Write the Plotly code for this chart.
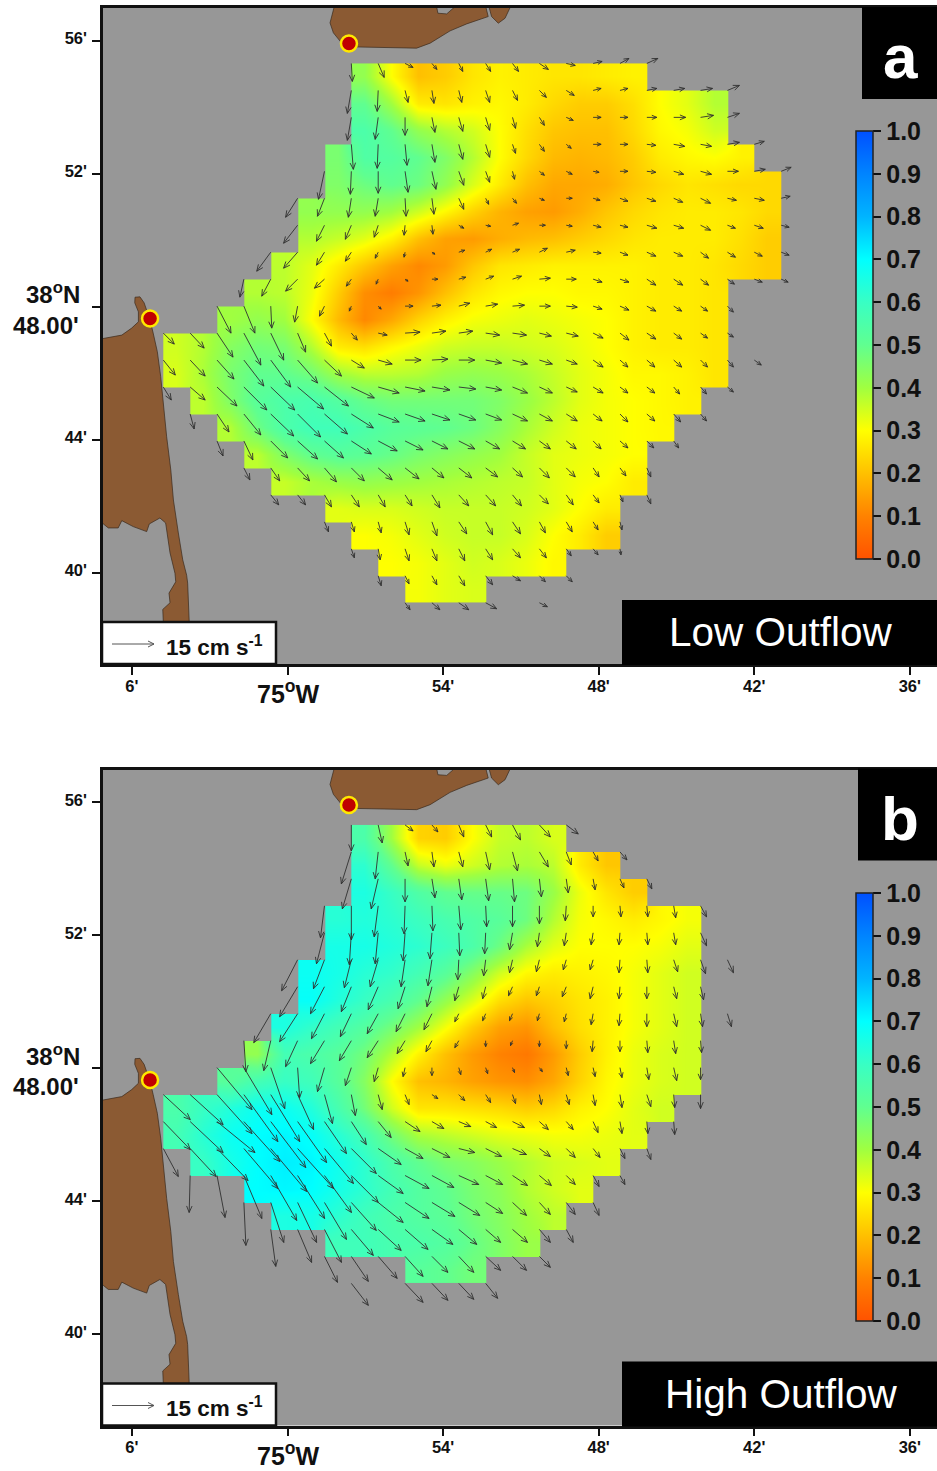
import plotly.graph_objects as go

# ---------- grid of the current-meter field (minutes of arc) ----------
LON0, DLON = -4.79, 1.036      # west edge of first grid block, block width (minutes east of 75 W)
LAT0, DLAT = 55.31, 0.811      # north edge of first grid row, block height (minutes north of 38 N)
N_COLS = 23

# Eulerian tidal residual strength per grid block: first column of each row, then values
Z_START_A = [7, 7, 7, 6, 6, 5, 5, 4, 3, 2, 0, 0, 1, 2, 3, 4, 6, 7, 8, 9]
Z_A = [
    [.42, .30, .20, .22, .26, .28, .27, .26, .26, .27, .28],
    [.50, .40, .27, .26, .28, .29, .27, .24, .22, .22, .25, .30, .33, .38],
    [.55, .50, .42, .38, .35, .30, .25, .21, .20, .20, .24, .29, .31, .35],
    [.46, .54, .53, .50, .45, .38, .30, .24, .19, .18, .19, .22, .27, .29, .30, .28],
    [.45, .48, .50, .48, .42, .34, .27, .20, .16, .16, .17, .21, .24, .26, .25, .24, .24],
    [.42, .42, .42, .40, .35, .29, .23, .18, .15, .14, .17, .21, .24, .26, .27, .27, .26, .24],
    [.38, .36, .33, .28, .20, .15, .14, .17, .19, .20, .22, .24, .26, .27, .27, .27, .25, .22],
    [.37, .33, .27, .21, .15, .11, .14, .21, .26, .27, .28, .28, .28, .28, .27, .27, .26, .24, .22],
    [.38, .37, .32, .22, .12, .09, .13, .20, .26, .29, .30, .30, .29, .29, .28, .27, .27, .26],
    [.40, .42, .40, .30, .19, .11, .16, .23, .28, .31, .32, .33, .32, .31, .30, .28, .27, .27, .26],
    [.35, .38, .44, .47, .46, .38, .27, .25, .29, .32, .35, .36, .36, .35, .34, .32, .30, .28, .27, .27, .26],
    [.34, .39, .46, .50, .50, .47, .40, .37, .37, .38, .41, .42, .41, .39, .36, .33, .31, .29, .29, .28, .26],
    [.37, .45, .52, .55, .56, .53, .49, .47, .47, .47, .47, .45, .41, .37, .33, .31, .30, .29, .28],
    [.38, .48, .55, .58, .58, .55, .52, .51, .50, .48, .44, .39, .35, .32, .31, .30, .29],
    [.37, .45, .50, .52, .51, .49, .46, .44, .42, .40, .36, .33, .32, .31, .30],
    [.36, .39, .41, .42, .41, .40, .39, .38, .37, .36, .33, .31, .30, .27],
    [.33, .34, .34, .35, .36, .36, .36, .35, .33, .30, .27],
    [.30, .31, .33, .35, .36, .36, .34, .30, .27, .22],
    [.30, .31, .33, .35, .34, .32, .29],
    [.31, .33, .34],
]
Z_START_B = [7, 7, 7, 6, 6, 5, 5, 4, 3, 2, 0, 0, 1, 3, 4, 6, 9]
Z_B = [
    [.55, .40, .23, .22, .30, .36, .37, .34],
    [.62, .50, .36, .32, .35, .38, .39, .37, .27, .21],
    [.65, .60, .54, .50, .49, .49, .48, .41, .32, .26, .22],
    [.63, .64, .62, .59, .56, .54, .52, .48, .38, .31, .29, .27, .29, .31],
    [.66, .66, .64, .62, .59, .55, .48, .39, .33, .30, .30, .30, .31, .33],
    [.68, .66, .63, .61, .57, .52, .44, .35, .29, .27, .28, .29, .31, .33, .35],
    [.69, .64, .60, .56, .50, .42, .34, .25, .21, .23, .26, .28, .31, .33, .35],
    [.65, .61, .57, .53, .47, .40, .31, .22, .15, .13, .20, .25, .28, .31, .33, .35],
    [.42, .57, .55, .52, .47, .38, .28, .20, .14, .10, .08, .14, .22, .28, .32, .34, .35],
    [.52, .57, .60, .58, .52, .44, .30, .20, .18, .15, .13, .12, .16, .23, .29, .32, .34, .35],
    [.55, .60, .64, .68, .68, .64, .56, .47, .35, .26, .26, .25, .24, .22, .24, .28, .30, .33, .35],
    [.57, .63, .68, .70, .71, .69, .63, .57, .47, .39, .37, .35, .33, .32, .31, .31, .32, .33],
    [.60, .66, .70, .72, .71, .67, .62, .55, .50, .46, .44, .41, .38, .35, .34, .33],
    [.70, .71, .70, .66, .62, .57, .53, .50, .46, .43, .38, .35, .33],
    [.65, .66, .62, .58, .55, .53, .51, .47, .44, .40, .37],
    [.58, .58, .56, .55, .53, .49, .45, .41],
    [.52, .50, .47],
]

# Current vectors at grid nodes. 41 units = the 15 cm/s reference arrow.
# U is eastward, V is southward.
ARROW_UNITS_PER_15CMS = 41
U_START_A = [7, 7, 7, 7, 6, 5, 5, 4, 3, 2, 0, 0, 0, 1, 2, 3, 4, 6, 7, 8, 9]
U_A = [
    [1, 6, 8, 5, 4, 5, 6, 9, 9, 9, 9, 11],
    [-4, -1, 3, 2, 3, 4, 5, 7, 8, 8, 8, 10, 11, 12, 12],
    [-4, -3, 0, 3, 4, 4, 3, 5, 7, 8, 8, 10, 12, 13, 12],
    [2, -1, 2, 3, 4, 4, 3, 5, 5, 8, 8, 9, 11, 11, 12, 10],
    [-6, -1, 0, 3, 4, 5, 4, 2, 5, 6, 6, 8, 9, 10, 11, 11, 11, 10],
    [-12, -7, -3, -3, 1, 2, 5, 3, 4, 5, 6, 7, 8, 9, 9, 10, 9, 10, 9],
    [-14, -8, -6, -4, -1, 1, 5, 5, 6, 6, 6, 8, 8, 10, 10, 10, 8, 9, 8],
    [-14, -14, -8, -6, -3, -1, 3, 6, 6, 7, 8, 9, 8, 8, 9, 9, 8, 8, 8, 8],
    [-4, -9, -12, -10, -5, -2, 3, 6, 7, 8, 9, 11, 10, 9, 9, 9, 9, 8, 7, 8, 7],
    [14, 11, 1, -3, -5, -2, 3, 8, 9, 11, 12, 12, 11, 11, 9, 9, 9, 8, 7, 6],
    [11, 14, 16, 17, 13, 8, 7, 6, 9, 15, 14, 14, 14, 14, 12, 12, 10, 9, 9, 8, 7, 6],
    [12, 15, 17, 20, 20, 20, 17, 13, 14, 16, 16, 16, 16, 15, 13, 11, 10, 8, 8, 8, 7, 6, 7],
    [8, 15, 20, 23, 24, 26, 24, 23, 21, 20, 18, 17, 16, 15, 13, 11, 10, 8, 8, 6, 6, 6],
    [4, 12, 17, 23, 23, 23, 22, 21, 20, 18, 17, 16, 15, 13, 11, 9, 8, 8, 7, 6],
    [6, 9, 17, 20, 19, 20, 19, 18, 16, 16, 14, 13, 11, 10, 8, 8, 7, 5],
    [6, 9, 12, 12, 13, 14, 14, 12, 13, 12, 10, 10, 9, 6, 6, 4],
    [8, 8, 7, 8, 7, 7, 8, 10, 10, 9, 9, 7, 6, 3, 4],
    [4, 3, 3, 4, 5, 8, 7, 8, 6, 6, 5, 2],
    [3, 2, 4, 5, 6, 7, 8, 7, 5, 5, 1],
    [3, 4, 5, 6, 7, 8, 6, 6],
    [5, 8, 10, 11, None, 8],
]
V_A = [
    [18, 14, 4, 6, 8, 8, 8, 6, 2, -2, -5, -5],
    [23, 21, 12, 13, 12, 12, 10, 7, 5, -2, -2, -2, -2, -2, -5],
    [23, 22, 18, 15, 14, 13, 11, 8, 3, 0, 0, 0, 0, -2, -4],
    [25, 24, 21, 18, 15, 13, 9, 7, 4, 0, 0, 1, 2, 2, -2, -3],
    [28, 23, 22, 21, 18, 14, 11, 8, 4, 3, 1, 0, 1, 3, 3, 0, -2, -4],
    [19, 18, 19, 18, 18, 16, 11, 6, 5, 2, 0, 2, 3, 3, 4, 5, 2, 2, -2],
    [18, 16, 14, 12, 10, 9, 3, 1, -2, 0, 1, 2, 2, 3, 3, 5, 3, 3, 2],
    [19, 16, 13, 9, 6, 5, 2, -2, -3, -3, -4, -2, 1, 3, 4, 4, 6, 5, 4, 3],
    [18, 17, 12, 9, 7, 5, 2, 0, -2, -3, -3, -1, 0, 3, 3, 6, 6, 6, 5, 3, 3],
    [27, 27, 22, 16, 10, 5, 3, 0, -1, -3, -2, -1, 0, 1, 3, 4, 5, 5, 5, 6],
    [11, 15, 24, 32, 27, 19, 13, 7, 2, -1, -2, -2, 2, 2, 3, 3, 5, 7, 6, 6, 5, 4],
    [15, 16, 19, 26, 27, 23, 16, 8, 4, 0, -1, 0, 3, 4, 4, 4, 7, 7, 7, 7, 7, 7, 5],
    [13, 13, 19, 23, 23, 22, 19, 11, 6, 4, 3, 2, 3, 6, 6, 5, 6, 6, 6, 7, 7, 5],
    [15, 18, 21, 22, 23, 20, 14, 8, 7, 6, 6, 6, 7, 7, 7, 7, 8, 7, 8, 7],
    [15, 19, 17, 18, 17, 13, 10, 9, 8, 8, 8, 8, 8, 8, 8, 7, 7, 7],
    [12, 13, 13, 14, 13, 12, 11, 10, 10, 9, 9, 10, 9, 9, 8, 9],
    [10, 10, 12, 12, 12, 11, 13, 11, 11, 11, 9, 10, 8, 7, 9],
    [10, 10, 11, 13, 14, 12, 13, 12, 11, 10, 8, 8],
    [9, 11, 12, 12, 12, 11, 9, 9, 7, 6, 6],
    [10, 8, 9, 10, 9, 5, 6, 6],
    [7, 7, 7, 6, None, 4],
]
U_START_B = [7, 7, 7, 6, 6, 5, 5, 4, 3, 2, 0, 0, 0, 1, 3, 4, 6, 7]
U_B = [
    [0, 4, 8, 6, 5, 6, 8, 11, 12],
    [-10, -3, 3, 2, 4, 4, 5, 9, 5, 5, 7],
    [-9, -7, 0, 3, 3, 3, 2, 2, 2, 2, 4, 5],
    [-4, 0, -4, -1, 1, 2, 1, 0, 0, -1, 0, 1, 1, 2, 6],
    [-8, -2, -3, -2, -2, 1, -1, -3, -2, -2, -2, -1, 1, 2, 6],
    [-16, -11, -7, -8, -4, -4, -1, -2, -3, -3, -3, -3, -1, 1, 4, 5, 6],
    [-18, -14, -10, -10, -7, -5, -4, -3, -4, -3, -4, -3, -1, 0, 3, 3],
    [-17, -18, -13, -11, -11, -9, -8, -4, -3, -3, -2, -2, -2, -1, 0, 3, 2, 4],
    [2, -7, -12, -14, -12, -11, -8, -6, -4, 0, -2, 0, 0, -1, 0, 1, 2, 1],
    [35, 28, 14, 2, -7, -6, -4, -2, 0, 2, 2, 2, 3, 2, 2, 2, 2, 3, 0],
    [27, 33, 35, 34, 29, 16, 8, 4, 4, 4, 6, 6, 5, 3, 2, 3, 2, 2, 4, 1, 0],
    [27, 33, 38, 36, 35, 29, 22, 15, 13, 15, 12, 12, 11, 12, 9, 7, 5, 2, 1, 1],
    [15, 26, 31, 34, 36, 36, 29, 25, 23, 18, 18, 16, 16, 14, 11, 9, 7, 5, 4],
    [-1, 8, 18, 26, 27, 27, 27, 25, 24, 22, 20, 17, 15, 12, 9, 6, 5],
    [2, 13, 19, 22, 25, 25, 24, 23, 21, 17, 14, 11, 9, 6],
    [5, 14, 17, 22, 23, 23, 21, 18, 15, 15, 11, 7],
    [13, 17, 19, 18, 16, 15, 15, 14, 11],
    [17, None, 18, 16, 15, 12],
]
V_B = [
    [26, 18, 6, 7, 12, 12, 15, 12, 9],
    [32, 27, 14, 15, 15, 18, 19, 15, 13, 9, 8],
    [30, 30, 23, 19, 21, 22, 23, 18, 14, 11, 9, 10],
    [32, 34, 31, 28, 25, 24, 21, 21, 18, 15, 11, 11, 11, 12, 11],
    [31, 32, 31, 28, 26, 23, 21, 17, 14, 13, 12, 12, 12, 12, 13],
    [31, 29, 28, 27, 27, 26, 20, 16, 13, 12, 10, 10, 13, 13, 12, 14, 13],
    [30, 27, 25, 23, 22, 20, 14, 12, 9, 9, 10, 12, 12, 12, 12, 13],
    [29, 28, 25, 23, 20, 18, 16, 8, 7, 7, 7, 8, 11, 12, 13, 13, 13, 13],
    [31, 30, 26, 23, 20, 17, 13, 11, 7, 6, 5, 6, 8, 11, 11, 12, 13, 12],
    [42, 47, 41, 30, 24, 18, 14, 9, 8, 7, 6, 5, 4, 8, 9, 10, 12, 13, 12],
    [25, 30, 39, 47, 47, 35, 29, 21, 15, 10, 4, 6, 8, 9, 10, 10, 11, 13, 12, 13, 14],
    [28, 31, 31, 40, 46, 41, 32, 23, 16, 10, 7, 5, 6, 6, 8, 8, 11, 12, 12, 13],
    [28, 28, 32, 40, 43, 40, 35, 25, 16, 10, 9, 4, 8, 6, 8, 9, 9, 10, 11],
    [37, 42, 43, 45, 43, 37, 27, 18, 13, 12, 9, 9, 10, 10, 9, 11, 9],
    [43, 40, 40, 37, 28, 20, 16, 14, 13, 11, 13, 12, 12, 13],
    [37, 33, 33, 26, 21, 20, 15, 15, 13, 13, 13, 13],
    [26, 25, 22, 20, 16, 16, 14, 14, 11],
    [22, None, 19, 17, 16, 15],
]

# Land (minutes east of 75 W, minutes north of 38 N)
LAND_LON = [-7.3, -6.39, -6.01, -5.75, -5.75, -5.89, -5.88, -5.69, -5.53, -5.43, -5.30, -5.18, -5.02, -4.89,
            -4.79, -4.66, -4.50, -4.40, -4.21, -4.04, -3.89, -3.85, -3.79, -4.79, -4.81, -4.53, -4.57, -4.31,
            -4.34, -4.53, -4.70, -4.92, -5.33, -5.43, -5.95, -6.39, -6.53, -6.91, -7.10, -7.3, None,
            1.83, 1.64, 1.77, 2.05, 2.41, 3.83, 4.98, 5.50, 6.27, 6.91, 7.74, 7.62, 6.58, 6.14, 5.80, 5.73, None,
            7.74, 7.87, 8.13, 8.39, 8.65]
LAND_LAT = [47.01, 47.14, 47.35, 47.54, 47.84, 48.11, 48.28, 48.29, 48.11, 47.89, 47.59, 47.20, 46.64, 45.89,
            45.10, 44.08, 43.08, 42.18, 41.19, 40.38, 39.92, 39.68, 38.51, 38.51, 38.89, 39.09, 39.38, 39.72,
            39.98, 40.59, 41.49, 41.64, 41.46, 41.23, 41.38, 41.56, 41.34, 41.34, 41.46, 41.49, None,
            57.1, 56.53, 56.23, 55.96, 55.81, 55.78, 55.77, 55.92, 56.29, 56.50, 56.72, 57.1, 57.1, 56.80, 56.82, 57.1, None,
            57.1, 56.72, 56.52, 56.67, 57.1]
STATION_LON = [2.37, -5.30]
STATION_LAT = [55.91, 47.64]

X_TICKS = [-6, 0, 6, 12, 18, 24]
X_LABELS = ["6'", "", "54'", "48'", "42'", "36'"]
Y_TICKS = [56, 52, 48, 44, 40]
Y_LABELS = ["56'", "52'", "", "44'", "40'"]
CB_TICKS = [0, .1, .2, .3, .4, .5, .6, .7, .8, .9, 1.0]

COLORSCALE = [[0, "#FF5200"], [.1, "#FF8200"], [.2, "#FFC000"], [.3, "#FFFF00"], [.4, "#A0FF40"],
              [.5, "#60FF90"], [.6, "#38FFC4"], [.7, "#00FFFF"], [.8, "#00B4FF"], [.9, "#0084FF"], [1, "#0050FF"]]

# ---------- page geometry ----------
W, H = 937, 1471
PX_LON, PX_LAT = 25.93, 33.25           # pixels per minute of arc
OFFSET_B = 761.5
LEFT, TOP_A, BOTTOM_A = 103, 8, 664
X_RANGE = [(LEFT - 287.5) / PX_LON, (W - 287.5) / PX_LON]
Y_RANGE = [48 + (306.5 - BOTTOM_A) / PX_LAT, 48 + (306.5 - TOP_A) / PX_LAT]
FONT = "Liberation Sans"
DARK = "#111111"

px = lambda x: x / W
py = lambda y: 1 - y / H


def field_rows(starts, rows):
    z = []
    for s, r in zip(starts, rows):
        row = [None] * N_COLS
        row[s:s + len(r)] = r
        z.append(row)
    return z[::-1]


def arrows(starts, us, vs):
    scale = ARROW_UNITS_PER_15CMS / 41.0
    xs, ys = [], []
    for j, (s, ur, vr) in enumerate(zip(starts, us, vs)):
        for i, (u, v) in enumerate(zip(ur, vr)):
            if u is None:
                continue
            x0 = LON0 + DLON * (s + i)
            y0 = LAT0 - DLAT * j
            dx, dy = u * scale, -v * scale
            L = (dx * dx + dy * dy) ** .5 or 1
            ex, ey = dx / L, dy / L
            h = min(6.5, .4 * L + 1)
            w = .42 * h
            tipx, tipy = dx, dy
            bx, by = tipx - ex * h, tipy - ey * h
            pts = [(0, 0), (tipx, tipy), None,
                   (bx - ey * w, by + ex * w), (tipx, tipy), (bx + ey * w, by - ex * w), None]
            for p in pts:
                if p is None:
                    xs.append(None)
                    ys.append(None)
                else:
                    xs.append(x0 + p[0] / PX_LON)
                    ys.append(y0 + p[1] / PX_LAT)
    return xs, ys


fig = go.Figure()
lon_c = [LON0 + DLON * (c + .5) for c in range(N_COLS)]
panels = [
    ("x", "y", Z_START_A, Z_A, U_START_A, U_A, V_A, 131),
    ("x2", "y2", Z_START_B, Z_B, U_START_B, U_B, V_B, 131 + 762),
]
for xa, ya, zs, zr, us, ur, vr, cb_top in panels:
    rows = field_rows(zs, zr)
    lat_c = [LAT0 - DLAT * (j + .5) for j in range(len(zr))][::-1]
    fig.add_trace(go.Heatmap(
        x=lon_c, y=lat_c, z=rows, xaxis=xa, yaxis=ya, zmin=0, zmax=1, zsmooth="best",
        colorscale=COLORSCALE, hoverinfo="skip",
        colorbar=dict(x=856 / W, xanchor="left", xpad=0, ypad=0, y=py(cb_top), yanchor="top",
                      lenmode="pixels", len=428, thicknessmode="pixels", thickness=17,
                      outlinecolor="#222222", outlinewidth=1.5, ticks="outside", ticklen=8, tickwidth=2,
                      tickcolor="#111111", tickvals=CB_TICKS, tickformat=".1f",
                      tickfont=dict(family=FONT, size=25, color=DARK, weight=700)),
    ))
    fig.add_trace(go.Scatter(x=LAND_LON, y=LAND_LAT, xaxis=xa, yaxis=ya, mode="lines", fill="toself",
                             fillcolor="#8B5A33", line=dict(color="#3a2a1c", width=.7),
                             hoverinfo="skip", showlegend=False))
    ax_x, ax_y = arrows(us, ur, vr)
    fig.add_trace(go.Scatter(x=ax_x, y=ax_y, xaxis=xa, yaxis=ya, mode="lines",
                             line=dict(color="#303030", width=.9), hoverinfo="skip", showlegend=False))
    fig.add_trace(go.Scatter(x=STATION_LON, y=STATION_LAT, xaxis=xa, yaxis=ya, mode="markers",
                             marker=dict(size=16, color="#C00000", line=dict(color="#FFE800", width=2.5)),
                             hoverinfo="skip", showlegend=False))

shapes, notes = [], []


def note(x, y, text, size, weight=700, color=DARK, xanchor="center"):
    notes.append(dict(x=px(x), y=py(y), xref="paper", yref="paper", text=text, showarrow=False,
                      xanchor=xanchor, yanchor="middle",
                      font=dict(family=FONT, size=size, color=color, weight=weight)))


def rect(x0, y0, x1, y1, fill, line=None, lw=0):
    shapes.append(dict(type="rect", xref="paper", yref="paper", x0=px(x0), x1=px(x1), y0=py(y0), y1=py(y1),
                       fillcolor=fill, line=dict(color=line or fill, width=lw), layer="above"))


for off, box_x, letter, title in [(0, 862, "a", "Low Outflow"), (OFFSET_B, 858, "b", "High Outflow")]:
    rect(box_x, 7 + off, W + 2, 99 + off, "black")
    note(900, 57 + off, letter, 62, color="white")
    rect(622, 600 + off, W + 2, 665 + off, "black")
    note(781, 632 + off, title, 40.5, weight=400, color="white")
    rect(102, 622 + off, 276, 664 + off, "white", "#111111", 2.5)
    yb = 644 + off
    shapes.append(dict(type="path", xref="paper", yref="paper", layer="above",
                       path=f"M{px(112)},{py(yb)}L{px(154)},{py(yb)}"
                            f"M{px(148)},{py(yb - 3)}L{px(154)},{py(yb)}L{px(148)},{py(yb + 3)}",
                       line=dict(color="#555555", width=1)))
    note(214, 645.5 + off, "15 cm s<sup>-1</sup>", 22.5)
    note(288, 692 + off, "75<sup>o</sup>W", 25)
    note(82, 293 + off, "38<sup>o</sup>N", 24, xanchor="right")
    note(81, 325 + off, "48.00'", 24, xanchor="right")

axis_common = dict(showline=True, linecolor="#111111", linewidth=2.5, ticks="outside", ticklen=8, tickwidth=2,
                   tickcolor="#111111", showgrid=False, zeroline=False,
                   tickfont=dict(family=FONT, size=16.5, color=DARK, weight=700))
x_kw = dict(axis_common, range=X_RANGE, tickmode="array", tickvals=X_TICKS, ticktext=X_LABELS,
            domain=[LEFT / W, 1], mirror=True, ticklabelstandoff=-3)
y_kw = dict(axis_common, range=Y_RANGE, tickmode="array", tickvals=Y_TICKS, ticktext=Y_LABELS,
            ticklabelstandoff=2, ticklabelshift=-2)

fig.update_layout(
    width=W, height=H, margin=dict(l=0, r=0, t=0, b=0), paper_bgcolor="white", plot_bgcolor="#979797",
    showlegend=False, shapes=shapes, annotations=notes,
    xaxis=dict(x_kw, anchor="y"),
    yaxis=dict(y_kw, anchor="x", domain=[py(BOTTOM_A), py(TOP_A)]),
    xaxis2=dict(x_kw, anchor="y2"),
    yaxis2=dict(y_kw, anchor="x2", domain=[py(BOTTOM_A + OFFSET_B), py(TOP_A + OFFSET_B)]),
)

fig.write_html("out.html", config={"displayModeBar": False},
               post_script="document.body.style.margin='0';document.body.style.overflow='hidden';")
